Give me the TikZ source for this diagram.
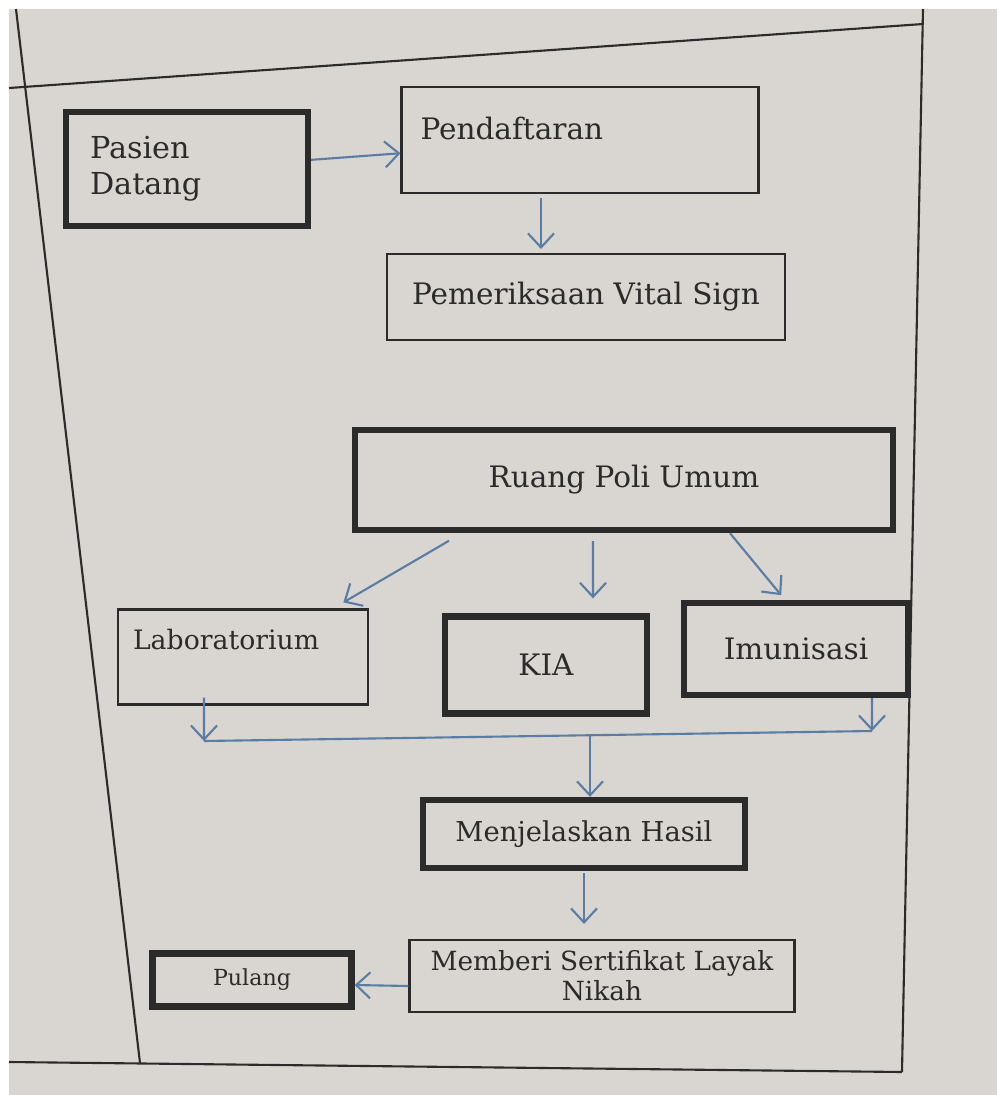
\documentclass[tikz,border=0pt]{standalone}
\usepackage{fontspec}
\setmainfont{DejaVu Serif}
\usetikzlibrary{arrows.meta}

\definecolor{screen}{HTML}{D9D5D0}
\definecolor{ink}{HTML}{2B2B2B}
\definecolor{flowblue}{HTML}{5A7DA5}

\tikzset{
  box/.style={draw=ink, line width=0.6pt, inner sep=0pt, text=ink, font=\fontsize{8.4}{10}\selectfont},
  thickbox/.style={box, line width=1.8pt},
  flow/.style={-{Straight Barb[length=1.4mm, width=2.6mm]}, line width=0.6pt, flowblue},
  link/.style={line width=0.6pt, flowblue},
  frame/.style={line width=0.6pt, ink}
}

\begin{document}
\begin{tikzpicture}[x=0.1mm, y=-0.1mm]
\useasboundingbox (0,0) rectangle (997,1095);
\fill [white] (0,0) rectangle (997,1095);
\fill [screen] (9,9) rectangle (997,1095);

\draw [frame] (9,88) -- (923,24);
\draw [frame] (16,9) -- (140,1063);
\draw [frame] (923,9) -- (902,1072);
\draw [frame] (9,1062) -- (902,1072);

\node [thickbox, minimum height=11.4mm, text width=19.4mm, inner xsep=2.4mm, align=left, font=\fontsize{8.6}{10.2}\selectfont] (pasien) at (187,169) {Pasien\\Datang};
\node [box, text width=31.9mm, inner xsep=1.9mm, align=left, text height=5.2mm, text depth=5.4mm] (pendaftaran) at (580,140) {Pendaftaran};
\node [box, minimum width=39.8mm, minimum height=8.6mm] (vital) at (586,297) {Pemeriksaan Vital Sign};
\draw [flow] (pasien) -- (pendaftaran);
\draw [flow, shorten <=0.4mm, shorten >=0.4mm] ([xshift=-3.9mm]pendaftaran.south) -- ([xshift=-4.5mm]vital.north);

\node [thickbox, minimum width=53.8mm, minimum height=10mm] (poli) at (624,480) {Ruang Poli Umum};

\node [box, text width=22mm, inner xsep=1.5mm, align=left, text height=4mm, text depth=5.5mm, font=\fontsize{7.6}{9}\selectfont] (lab) at (243,657) {Laboratorium};
\node [thickbox, minimum width=20.2mm, minimum height=9.7mm] (kia) at (546,665) {KIA};
\node [thickbox, minimum width=22.4mm, minimum height=9.2mm] (imun) at (796,649) {Imunisasi};
\draw [flow, shorten <=1.5mm, shorten >=1.2mm] ([xshift=-16.2mm]poli.south) -- ([xshift=9mm]lab.north);
\draw [flow, shorten <=0.8mm, shorten >=1.5mm] ([xshift=-3.1mm]poli.south) -- ([xshift=4.7mm]kia.north);
\draw [flow, shorten >=0.6mm] ([xshift=10.6mm]poli.south) -- ([xshift=-1.1mm]imun.north);

\coordinate (joinL) at (204,741);
\coordinate (joinM) at (590,736);
\coordinate (joinR) at (872,731);
\draw [flow, shorten <=-0.8mm] ([xshift=-3.9mm]lab.south) -- (joinL);
\draw [flow] ([xshift=7.6mm]imun.south) -- (joinR);
\draw [link] (joinL) -- (joinR);

\node [thickbox, minimum width=32.2mm, minimum height=6.8mm, font=\fontsize{7.8}{9}\selectfont] (hasil) at (584,834) {Menjelaskan Hasil};
\node [box, minimum width=38.5mm, minimum height=7.2mm, align=center, font=\fontsize{7.5}{8.6}\selectfont] (sertifikat) at (602,976) {Memberi Sertifikat Layak\\Nikah};
\node [thickbox, minimum width=19.9mm, minimum height=5.3mm, font=\fontsize{6.3}{7.5}\selectfont] (pulang) at (252,980) {Pulang};
\draw [flow] (joinM) -- (hasil.north -| joinM);
\draw [flow, shorten <=0.2mm, shorten >=1.5mm] (hasil.south) -- (hasil.south |- sertifikat.north);
\draw [flow] ([yshift=-1mm]sertifikat.west) -- ([yshift=-0.5mm]pulang.east);
\end{tikzpicture}
\end{document}
